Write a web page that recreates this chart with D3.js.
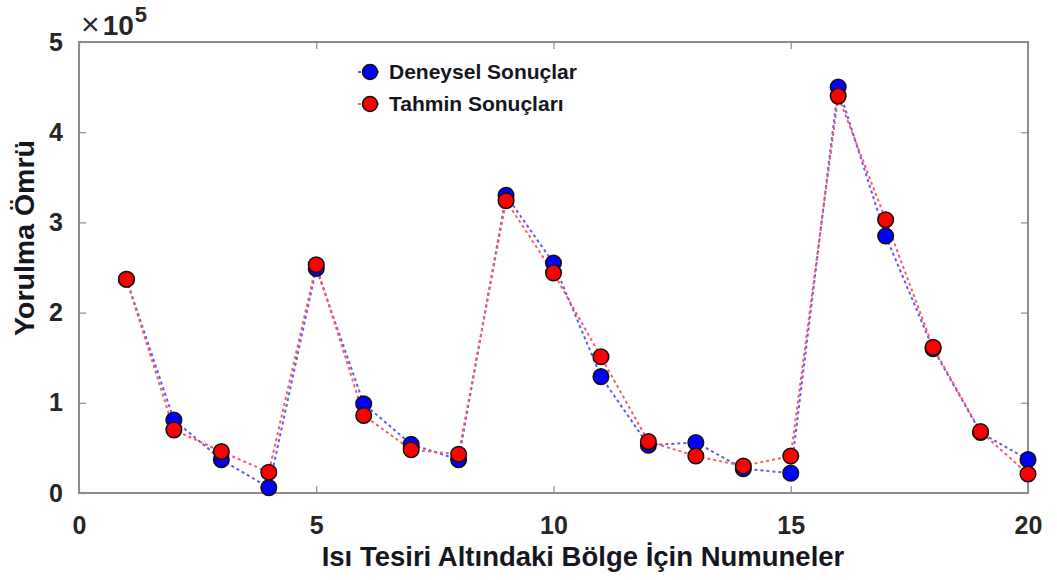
<!DOCTYPE html>
<html>
<head>
<meta charset="utf-8">
<script src="https://cdn.jsdelivr.net/npm/d3@7"></script>
<style>
  html, body { margin: 0; padding: 0; background: #fff; }
  svg text { font-family: "Liberation Sans", Arial, sans-serif; }
</style>
</head>
<body>
<svg id="chart" width="1057" height="580"></svg>
<script>
// Sample index along the x axis
const samples = d3.range(1, 21);
// Fatigue life (×10^5): experimental and predicted
const deneysel = [2.37, 0.81, 0.37, 0.06, 2.49, 0.99, 0.54, 0.37, 3.30, 2.55,
                  1.29, 0.53, 0.56, 0.27, 0.22, 4.50, 2.85, 1.60, 0.67, 0.37];
const tahmin   = [2.37, 0.70, 0.46, 0.23, 2.53, 0.86, 0.48, 0.43, 3.24, 2.44,
                  1.51, 0.57, 0.41, 0.30, 0.41, 4.40, 3.03, 1.615, 0.68, 0.21];
const xTicks = [0, 5, 10, 15, 20];
const yTicks = [0, 1, 2, 3, 4, 5];
const seriesNames = ["Deneysel Sonuçlar", "Tahmin Sonuçları"];

const svg = d3.select("#chart");
const m = { left: 79, right: 1028, top: 42, bottom: 493 };

const x = d3.scaleLinear().domain([0, 20]).range([m.left, m.right]);
const y = d3.scaleLinear().domain([0, 5]).range([m.bottom, m.top]);

const axisColor = "#8c8c8c";
const textColor = "#262626";
const titleColor = "#161620";

// Box around the plotting area
svg.append("rect")
  .attr("x", m.left).attr("y", m.top)
  .attr("width", m.right - m.left).attr("height", m.bottom - m.top)
  .attr("fill", "none").attr("stroke", axisColor).attr("stroke-width", 2);

// Axes with inward ticks
const tickLen = 7;
const gx = svg.append("g").attr("transform", `translate(0,${m.bottom})`)
  .call(d3.axisBottom(x).tickValues(xTicks).tickFormat(d3.format("d"))
    .tickSizeInner(-tickLen).tickSizeOuter(0).tickPadding(18));
const gxTop = svg.append("g").attr("transform", `translate(0,${m.top})`)
  .call(d3.axisTop(x).tickValues(xTicks).tickSizeInner(-tickLen).tickSizeOuter(0).tickFormat(""));
const gy = svg.append("g").attr("transform", `translate(${m.left},0)`)
  .call(d3.axisLeft(y).tickValues(yTicks).tickFormat(d3.format("d"))
    .tickSizeInner(-tickLen).tickSizeOuter(0).tickPadding(16));
const gyRight = svg.append("g").attr("transform", `translate(${m.right},0)`)
  .call(d3.axisRight(y).tickValues(yTicks).tickSizeInner(-tickLen).tickSizeOuter(0).tickFormat(""));

[gx, gxTop, gy, gyRight].forEach(g => {
  g.select(".domain").remove();
  g.selectAll(".tick line").attr("stroke", axisColor).attr("stroke-width", 1.2);
});
[gx, gy].forEach(g => {
  g.selectAll(".tick text")
    .attr("fill", textColor)
    .style("font-size", "25px")
    .style("font-weight", "bold");
});
gx.selectAll(".tick text").attr("dy", "0.9em");

// Exponent label
const exp = svg.append("text")
  .attr("x", m.left + 2).attr("y", 35)
  .attr("fill", textColor)
  .style("font-size", "28px");
exp.append("tspan").text("×").style("font-weight", "normal").style("font-size", "32px");
exp.append("tspan").text("10").attr("dx", 3).style("font-weight", "bold");
exp.append("tspan").text("5").attr("dy", -13).attr("dx", 1).style("font-size", "22px").style("font-weight", "bold");

// Axis titles
svg.append("text")
  .attr("x", 583).attr("y", 566)
  .attr("text-anchor", "middle")
  .attr("fill", titleColor)
  .style("font-size", "27.5px").style("font-weight", "bold")
  .text("Isı Tesiri Altındaki Bölge İçin Numuneler");

svg.append("text")
  .attr("transform", `translate(34,238) rotate(-90)`)
  .attr("text-anchor", "middle")
  .attr("fill", titleColor)
  .style("font-size", "28.5px").style("font-weight", "bold")
  .text("Yorulma Ömrü");

// Series
const series = [
  { name: seriesNames[0], values: deneysel, line: "#5a5aff", fill: "#0000ff" },
  { name: seriesNames[1], values: tahmin,   line: "#ff5a5a", fill: "#ff0000" }
];

const line = d3.line().x((d, i) => x(samples[i])).y(d => y(d));

series.forEach(s => {
  svg.append("path")
    .datum(s.values)
    .attr("d", line)
    .attr("fill", "none")
    .attr("stroke", s.line)
    .attr("stroke-width", 2)
    .attr("stroke-dasharray", "3,3");
});

series.forEach(s => {
  svg.append("g").selectAll("circle")
    .data(s.values)
    .join("circle")
    .attr("cx", (d, i) => x(samples[i]))
    .attr("cy", d => y(d))
    .attr("r", 7.8)
    .attr("fill", s.fill)
    .attr("stroke", "#111")
    .attr("stroke-width", 1.5);
});

// Legend
const legend = svg.append("g");
series.forEach((s, i) => {
  const ly = 72 + i * 32;
  legend.append("line")
    .attr("x1", 358).attr("x2", 382).attr("y1", ly).attr("y2", ly)
    .attr("stroke", s.line).attr("stroke-width", 2).attr("stroke-dasharray", "3,3");
  legend.append("circle")
    .attr("cx", 370).attr("cy", ly).attr("r", 7.5)
    .attr("fill", s.fill).attr("stroke", "#111").attr("stroke-width", 1.5);
  legend.append("text")
    .attr("x", 389).attr("y", ly)
    .attr("dy", "0.35em")
    .attr("fill", titleColor)
    .style("font-size", "21px").style("font-weight", "bold")
    .text(s.name);
});
</script>
</body>
</html>
